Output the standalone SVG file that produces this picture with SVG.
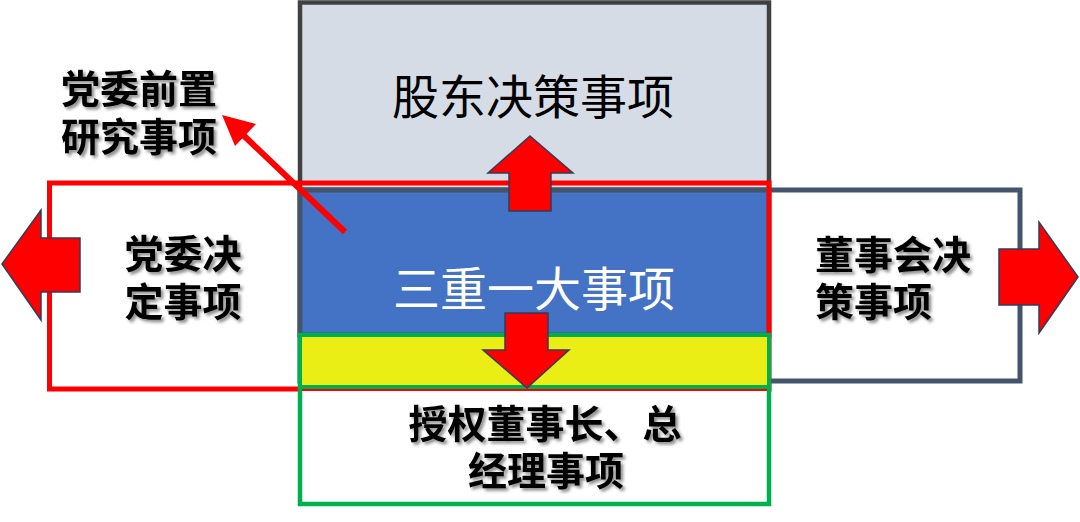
<svg xmlns="http://www.w3.org/2000/svg" width="1080" height="522" viewBox="0 0 1080 522">
<defs>
<style>
.cjk{font-family:"Noto Sans CJK SC","Noto Sans CJK TC",sans-serif;}
.big{font-size:47px;font-weight:400;}
.lbl{font-size:39px;font-weight:700;fill:#000;}
.arr{fill:#FF0000;stroke:#2F3E5C;stroke-width:1.5;stroke-linejoin:miter;}
</style>
<filter id="sh" x="-10%" y="-10%" width="130%" height="140%">
<feDropShadow dx="2.5" dy="2.5" stdDeviation="1.5" flood-color="#000" flood-opacity="0.45"/>
</filter>
</defs>
<rect width="1080" height="522" fill="#FFFFFF"/>

<g id="shareholder">
<rect x="300" y="2.5" width="469" height="188" fill="#D6DCE5" stroke="#404040" stroke-width="4.5"/>
<text class="cjk big" x="533" y="114" text-anchor="middle" fill="#000">股东决策事项</text>
</g>

<g id="board">
<rect x="300" y="190" width="720" height="191" fill="#FFFFFF" stroke="#44546A" stroke-width="5"/>
<text class="cjk lbl" filter="url(#sh)"><tspan x="815" y="269">董事会决</tspan><tspan x="815" y="316">策事项</tspan></text>
</g>

<g id="major">
<rect x="300" y="190" width="469" height="145" fill="#4472C4" stroke="#44546A" stroke-width="5"/>
<text class="cjk big" x="534" y="306" text-anchor="middle" fill="#FFFFFF">三重一大事项</text>
</g>

<g id="party">
<rect x="49.5" y="183" width="719.5" height="206" fill="none" stroke="#FF0000" stroke-width="5"/>
<text class="cjk lbl" text-anchor="middle" filter="url(#sh)"><tspan x="183" y="268">党委决</tspan><tspan x="183" y="316">定事项</tspan></text>
</g>

<g id="authorized">
<rect x="300" y="335" width="469" height="169" fill="#FFFFFF" stroke="#00B050" stroke-width="4.5"/>
<line x1="302" y1="390" x2="767" y2="390" stroke="#FF0000" stroke-width="2"/>
<rect x="300" y="335" width="469" height="52" fill="#EAEE14" stroke="#00B050" stroke-width="4"/>
<text class="cjk lbl" text-anchor="middle" filter="url(#sh)"><tspan x="545" y="438">授权董事长、总</tspan><tspan x="546" y="485">经理事项</tspan></text>
</g>

<g id="pre-study">
<text class="cjk lbl" filter="url(#sh)"><tspan x="61" y="103">党委前置</tspan><tspan x="61" y="151">研究事项</tspan></text>
</g>

<g id="connectors">
<path class="arr" d="M530,136 L573,173 L551,173 L551,211 L509,211 L509,173 L488,173 Z"/>
<path class="arr" d="M527,388 L569,350 L548,350 L548,313 L505,313 L505,350 L483,350 Z"/>
<path class="arr" d="M2,264 L41,210 L41,238 L80,238 L80,292 L41,292 L41,320 Z"/>
<path class="arr" d="M1078,277 L1039,222 L1039,249 L999,249 L999,305 L1039,305 L1039,333 Z"/>
<line x1="345" y1="232" x2="240" y2="132" stroke="#FF0000" stroke-width="6"/>
<path d="M222,115 L256,124 L235,146 Z" fill="#FF0000"/>
</g>
</svg>
